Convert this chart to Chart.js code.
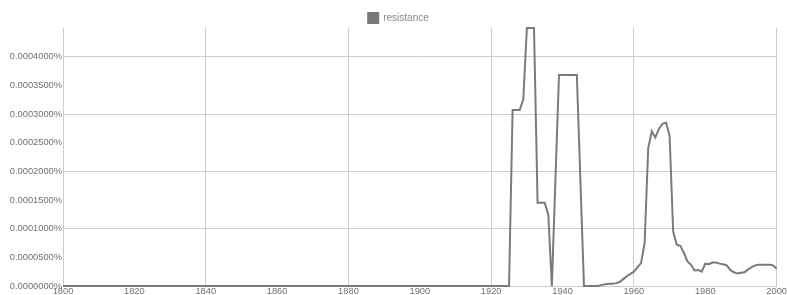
<!DOCTYPE html>
<html>
<head>
<meta charset="utf-8">
<script src="https://cdn.jsdelivr.net/npm/chart.js@4.4.0/dist/chart.umd.min.js"></script>
<style>
  body { margin:0; background:#fff; }
  #wrap { width:787px; height:295px; position:relative; }
</style>
</head>
<body>
<div id="wrap"><canvas id="ngram"></canvas></div>
<script>
// Ngram-style frequency chart for "resistance", 1800-2000
const SERIES = 'resistance';
const years = [1800,
  1925, 1926, 1927, 1928, 1929, 1930, 1931, 1932, 1933, 1934,
  1935, 1936, 1937, 1938, 1939, 1940, 1941, 1942, 1943, 1944,
  1945, 1946, 1947, 1948, 1949, 1950, 1951, 1952, 1953, 1954,
  1955, 1956, 1957, 1958, 1959, 1960, 1961, 1962, 1963, 1964,
  1965, 1966, 1967, 1968, 1969, 1970, 1971, 1972, 1973, 1974,
  1975, 1976, 1977, 1978, 1979, 1980, 1981, 1982, 1983, 1984,
  1985, 1986, 1987, 1988, 1989, 1990, 1991, 1992, 1993, 1994,
  1995, 1996, 1997, 1998, 1999, 2000];
// values in percent
const freq = [0,
  0, 0.000307, 0.000307, 0.000307, 0.000326, 0.00045, 0.00045, 0.00045, 0.000145, 0.000145,
  0.000145, 0.000125, 0, 0.000185, 0.000368, 0.000368, 0.000368, 0.000368, 0.000368, 0.000368,
  0.000185, 0, 0, 0, 0, 0, 0.000002, 0.000003, 0.000004, 0.000004,
  0.000005, 0.000007, 0.000012, 0.000017, 0.000021, 0.000025, 0.000033, 0.00004, 0.000075, 0.00024,
  0.00027, 0.000259, 0.000274, 0.000283, 0.000285, 0.000262, 0.000095, 0.000072, 0.00007, 0.000058,
  0.000043, 0.000037, 0.000027, 0.000028, 0.000025, 0.000039, 0.000038, 0.000041, 0.000041, 0.000039,
  0.000038, 0.000036, 0.000028, 0.000024, 0.000022, 0.000023, 0.000024, 0.000029, 0.000033, 0.000036,
  0.000037, 0.000037, 0.000037, 0.000037, 0.000036, 0.00003];
const yMax = 0.00045;
const yStep = 0.00005;

const GRID = '#cccccc';
const TEXT = '#707070';
const FONT = { family: "'Liberation Sans', Arial, sans-serif", size: 9.3 };

// fixed legend band height and a small nudge to the right, like the original
const legendTweak = {
  id: 'legendTweak',
  beforeInit(chart) {
    const fit = chart.legend.fit;
    chart.legend.fit = function () { fit.bind(chart.legend)(); this.height = 28; };
  },
  afterLayout(chart) {
    chart.legend.left += 10;
    chart.legend.right += 10;
  }
};

new Chart(document.getElementById('ngram'), {
  type: 'line',
  data: {
    datasets: [{
      label: SERIES,
      data: years.map((y, i) => ({ x: y, y: freq[i] })),
      borderColor: '#7a7a7c',
      backgroundColor: '#77777a',
      borderWidth: 2,
      pointRadius: 0,
      tension: 0,
      clip: 4
    }]
  },
  options: {
    responsive: true,
    maintainAspectRatio: false,
    animation: false,
    layout: { padding: { left: 0, right: 10, top: 0, bottom: 0 } },
    plugins: {
      legend: {
        display: true,
        labels: { boxWidth: 10, boxHeight: 10, padding: 13, color: '#888', font: { ...FONT, size: 10 } }
      },
      tooltip: { enabled: false }
    },
    scales: {
      x: {
        type: 'linear', min: 1800, max: 2000,
        afterFit: s => { s.height = 9; },
        ticks: { stepSize: 20, color: TEXT, font: FONT, padding: 0, maxRotation: 0, callback: v => String(v) },
        grid: { drawTicks: false, color: c => (c.tick && c.tick.value % 40 === 0) ? GRID : 'rgba(0,0,0,0)' },
        border: { color: GRID }
      },
      y: {
        min: 0, max: yMax,
        afterFit: s => { s.width = 63; },
        ticks: {
          stepSize: yStep, color: TEXT, font: FONT, padding: 1,
          callback: v => v > 0.00041 ? '' : v.toFixed(7) + '%'
        },
        grid: {
          drawTicks: false,
          color: c => {
            if (!c.tick) return 'rgba(0,0,0,0)';
            const n = Math.round(c.tick.value / yStep);
            return (n % 2 === 0 && c.tick.value < 0.00041) ? GRID : 'rgba(0,0,0,0)';
          }
        },
        border: { color: GRID }
      }
    }
  },
  plugins: [legendTweak]
});
</script>
</body>
</html>
